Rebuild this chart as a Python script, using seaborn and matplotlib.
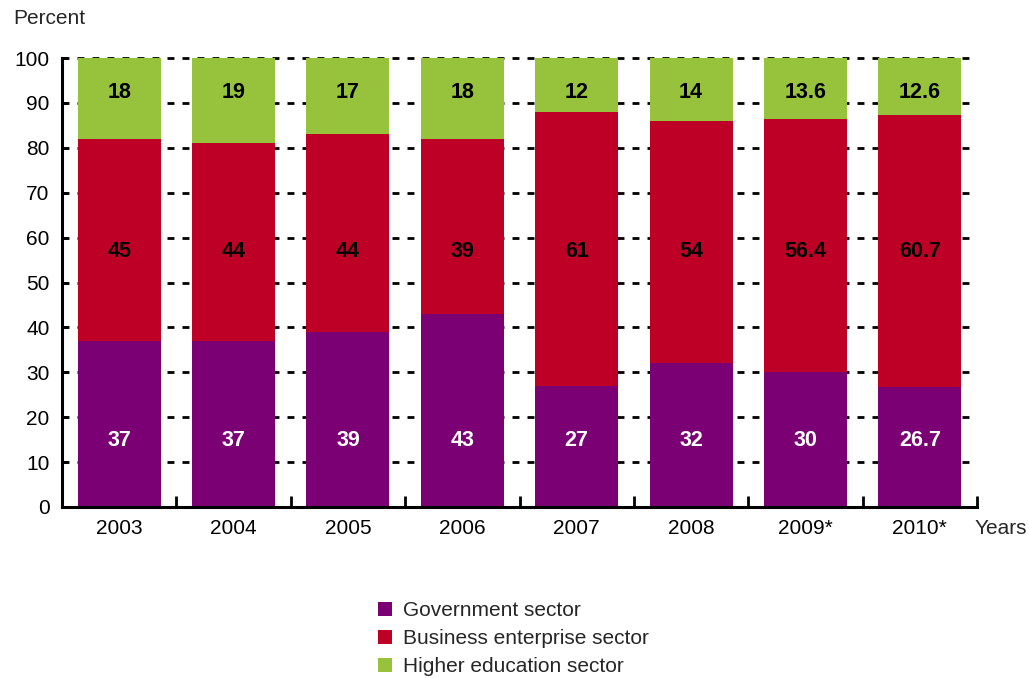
import matplotlib
matplotlib.use("Agg")
import matplotlib.pyplot as plt
from matplotlib.patches import Patch
from matplotlib.ticker import FixedLocator
import numpy as np
import pandas as pd
import seaborn as sns

# R&D funding shares by sector of performance
years = ["2003", "2004", "2005", "2006", "2007", "2008", "2009*", "2010*"]
government = [37, 37, 39, 43, 27, 32, 30, 26.7]
business = [45, 44, 44, 39, 61, 54, 56.4, 60.7]
higher_edu = [18, 19, 17, 18, 12, 14, 13.6, 12.6]
value_labels_gov = ["37", "37", "39", "43", "27", "32", "30", "26.7"]
value_labels_bus = ["45", "44", "44", "39", "61", "54", "56.4", "60.7"]
value_labels_hed = ["18", "19", "17", "18", "12", "14", "13.6", "12.6"]
series_names = ["Government sector", "Business enterprise sector", "Higher education sector"]
colors = ["#7b0074", "#be0027", "#97c33c"]
label_colors = ["white", "black", "black"]
# value labels sit on a common row for each sector
label_rows = [14.8, 56.8, 92.3]

sns.set_theme(style="white")
plt.rcParams["font.family"] = ["Liberation Sans", "DejaVu Sans"]

fig = plt.figure(figsize=(10.29, 6.78), dpi=100)
ax = fig.add_axes([62 / 1029, 1 - 507 / 678, (977 - 62) / 1029, (507 - 58) / 678])

df = pd.DataFrame({"year": years, "gov": government, "bus": business, "hed": higher_edu})
stack = [("gov", value_labels_gov), ("bus", value_labels_bus), ("hed", value_labels_hed)]
bottom = np.zeros(len(years))
for (col, texts), color, tcolor, row in zip(stack, colors, label_colors, label_rows):
    vals = df[col].to_numpy(dtype=float)
    sns.barplot(data=df, x="year", y=col, bottom=bottom, color=color, width=0.725,
                saturation=1, ax=ax, zorder=3, linewidth=0, errorbar=None)
    for i, t in enumerate(texts):
        ax.text(i, row, t, ha="center", va="center", fontsize=15.5,
                fontweight="bold", color=tcolor, zorder=4)
    bottom = bottom + vals

ax.set_xlim(-0.5, len(years) - 0.5)
ax.set_ylim(0, 100)
ax.set_yticks(np.arange(0, 101, 10))
ax.set_xlabel("")
ax.set_ylabel("")

# dashed horizontal gridlines behind the bars
for y in np.arange(10, 101, 10):
    ax.axhline(y, color="black", linewidth=2, linestyle=(0, (2.5, 2.9)), zorder=1,
               clip_on=False)

for side in ["top", "right"]:
    ax.spines[side].set_visible(False)
for side in ["left", "bottom"]:
    ax.spines[side].set_visible(True)
    ax.spines[side].set_color("black")
    ax.spines[side].set_linewidth(2.2)
    ax.spines[side].set_zorder(5)

ax.tick_params(axis="y", direction="in", length=4, width=2, colors="black",
               labelsize=15, pad=9, left=True)
ax.tick_params(axis="x", which="major", length=0, labelsize=15, pad=9, colors="black")
ax.xaxis.set_minor_locator(FixedLocator(np.arange(-0.5, len(years), 1.0)))
ax.tick_params(axis="x", which="minor", direction="in", length=8, width=2,
               colors="black", bottom=True)

fig.text(13 / 1029, 1 - 18 / 678, "Percent", fontsize=15, ha="left", va="center")
fig.text(975 / 1029, 1 - 528 / 678, "Years", fontsize=15, ha="left", va="center")

handles = [Patch(facecolor=c, edgecolor="none") for c in colors]
fig.legend(handles, series_names, loc="upper left",
           bbox_to_anchor=(378 / 1029, 1 - 601 / 678), frameon=False, fontsize=15,
           handlelength=0.68, handleheight=0.68, handletextpad=0.5, labelspacing=0.44,
           borderpad=0, borderaxespad=0)

fig.savefig("out.png", dpi=100)
